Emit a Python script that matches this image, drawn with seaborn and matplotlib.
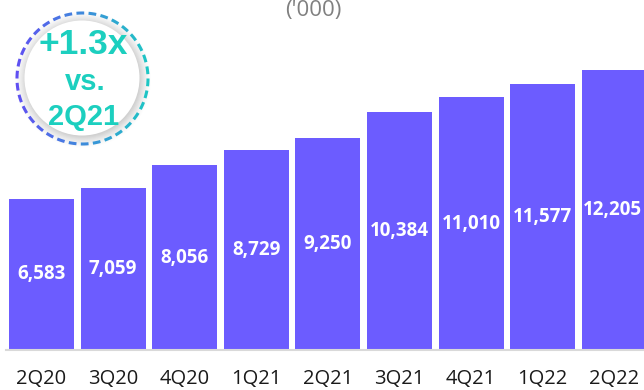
import numpy as np
import pandas as pd
import matplotlib
matplotlib.use("Agg")
import matplotlib.pyplot as plt
import seaborn as sns
from matplotlib.patches import Circle, Arc
from matplotlib.colors import to_rgb

# Quarterly figures, in thousands
quarters = ["2Q20", "3Q20", "4Q20", "1Q21", "2Q21", "3Q21", "4Q21", "1Q22", "2Q22"]
values = [6583, 7059, 8056, 8729, 9250, 10384, 11010, 11577, 12205]

unit_label = "('000)"
badge_lines = ["+1.3x", "vs.", "2Q21"]

BAR_COLOR = "#6C5CFF"
TEAL = "#1CCFBF"
W, H = 644, 390

sns.set_theme(style="white")
plt.rcParams["font.family"] = ["Open Sans", "DejaVu Sans"]

df = pd.DataFrame({"quarter": quarters, "value": values})

fig = plt.figure(figsize=(W / 100, H / 100), dpi=100)
ax = fig.add_axes([0, 40 / H, 1, 350 / H])

sns.barplot(data=df, x="quarter", y="value", color=BAR_COLOR, saturation=1,
            width=0.91, ax=ax, edgecolor="none")

ax.set_xlim(-0.58, 8.415)
ax.set_ylim(0, 15257)
ax.set_xlabel("")
ax.set_ylabel("")
ax.set_yticks([])
for side in ["top", "left", "right"]:
    ax.spines[side].set_visible(False)
ax.spines["bottom"].set_color("#d9d9d9")
ax.spines["bottom"].set_linewidth(1.5)
ax.spines["bottom"].set_bounds(-0.5, 8.5)
ax.tick_params(axis="x", length=0, pad=14, labelsize=14.5, labelcolor="#1a1a1a")

ax.bar_label(ax.containers[0], labels=[f"{v:,}" for v in values],
             label_type="center", color="white", fontsize=13.5,
             fontweight="bold")

# Unit note at the top
fig.text(313 / W, 1 - 16 / H, unit_label, ha="center", va="baseline",
         fontsize=16, color="#808080")

# Badge in pixel coordinates
ov = fig.add_axes([0, 0, 1, 1])
ov.set_xlim(0, W)
ov.set_ylim(H, 0)
ov.axis("off")
ov.patch.set_alpha(0)

cx, cy, r = 82.5, 78.5, 65.5

# soft shadow ring
for rad, a in zip(np.linspace(68, 57, 12), np.linspace(0.015, 0.07, 12)):
    ov.add_patch(Circle((cx + 0.5, cy + 1), rad, facecolor="#9a9a9a",
                        edgecolor="none", alpha=a))
ov.add_patch(Circle((cx - 0.5, cy - 0.5), 57.5, facecolor="white", edgecolor="none"))

# dashed ring with a left-to-right colour gradient
c_left = np.array(to_rgb("#5F4FF2"))
c_right = np.array(to_rgb("#1DC6C4"))
n_dash = 34
step = 360 / n_dash
dash = step * 0.64
for k in range(n_dash):
    a0 = k * step
    mid = np.deg2rad(a0 + dash / 2)
    t = (np.cos(mid) + 1) / 2
    col = c_left * (1 - t) + c_right * t
    ov.add_patch(Arc((cx, cy), 2 * r, 2 * r, theta1=a0, theta2=a0 + dash,
                     color=col, lw=2.2))

ov.text(83, 54, badge_lines[0], ha="center", va="baseline", color=TEAL,
        fontsize=25.5, fontweight="bold", family="Liberation Sans")
ov.text(85, 90, badge_lines[1], ha="center", va="baseline", color=TEAL,
        fontsize=21, fontweight="bold", family="Liberation Sans")
ov.text(84, 125, badge_lines[2], ha="center", va="baseline", color=TEAL,
        fontsize=21, fontweight="bold", family="Liberation Sans")

fig.savefig("out.png", dpi=100)
